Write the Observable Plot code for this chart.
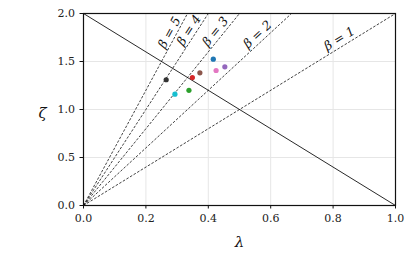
<!DOCTYPE html>
<html><head><meta charset="utf-8">
<script src="https://cdn.jsdelivr.net/npm/d3@7"></script>
<script src="https://cdn.jsdelivr.net/npm/@observablehq/plot@0.6"></script>
<style>
body{margin:0;background:#fff;}
svg, svg text{font-family:"DejaVu Serif", serif !important;}
</style>
</head><body><div id="chart"></div>
<script>
const betas = [1, 2, 3, 4, 5];
const betaLabelLambda = [0.83, 0.57, 0.436, 0.352, 0.29];
const ptLambda = [0.265, 0.293, 0.338, 0.349, 0.373, 0.416, 0.425, 0.453];
const ptZeta = [1.31, 1.16, 1.20, 1.333, 1.382, 1.524, 1.406, 1.445];
const ptColor = ["#333333", "#17becf", "#2ca02c", "#d62728", "#8c564b", "#1f77b4", "#e377c2", "#9467bd"];
const xTicks = [0, 0.2, 0.4, 0.6, 0.8, 1.0];
const yTicks = [0, 0.5, 1.0, 1.5, 2.0];

const W = 415, H = 257;
const mL = 83, mR = 20, mT = 13, mB = 52;
const pxW = W - mL - mR, pxH = H - mT - mB;

const rays = betas.map(b => ({b, x2: Math.min(1, 2 / (b + 1))}));
const labels = betas.map((b, i) => {
  const lx = betaLabelLambda[i], ly = (b + 1) * lx;
  const ang = Math.atan((b + 1) * (pxH / 2) / pxW) * 180 / Math.PI;
  return {x: lx, y: ly, r: -ang, t: "β = " + b};
});
const pts = ptLambda.map((x, i) => ({x, y: ptZeta[i], c: ptColor[i]}));

const chart = Plot.plot({
  width: W, height: H,
  marginLeft: mL, marginRight: mR, marginTop: mT, marginBottom: mB,
  style: {fontSize: "11px", fontFamily: "'DejaVu Serif', serif", color: "#222"},
  x: {domain: [0, 1]},
  y: {domain: [0, 2]},
  marks: [
    Plot.gridX(xTicks, {stroke: "#e6e6e6", strokeOpacity: 1, strokeWidth: 1}),
    Plot.gridY(yTicks, {stroke: "#e6e6e6", strokeOpacity: 1, strokeWidth: 1}),
    Plot.link(rays, {x1: 0, y1: 0, x2: "x2", y2: d => (d.b + 1) * d.x2, stroke: "#111", strokeWidth: 0.8, strokeDasharray: "2.6,1.6"}),
    Plot.line([{x: 0, y: 2}, {x: 1, y: 0}], {x: "x", y: "y", stroke: "#111", strokeWidth: 0.9}),
    Plot.text(labels, {x: "x", y: "y", text: "t", rotate: "r", lineAnchor: "bottom", fontSize: 12.5, fontStyle: "italic", fill: "#111", dy: -4, dx: -1}),
    Plot.dot(pts, {x: "x", y: "y", fill: "c", r: 2.6, stroke: "none"}),
    Plot.frame({stroke: "#111", strokeWidth: 1.2}),
    Plot.axisX(xTicks, {tickSize: 3.5, tickPadding: 5, tickFormat: d3.format(".1f"), label: null, fontSize: 11, stroke: "#111"}),
    Plot.axisY(yTicks, {tickSize: 3.5, tickPadding: 5, tickFormat: d3.format(".1f"), label: null, fontSize: 11, stroke: "#111"}),
    Plot.text(["λ"], {frameAnchor: "bottom", dy: 41, fontSize: 15, fontStyle: "italic", fill: "#111"}),
    Plot.text(["ζ"], {frameAnchor: "left", dx: -45, dy: 4, fontSize: 15, fontStyle: "italic", fill: "#111"})
  ]
});
document.getElementById("chart").appendChild(chart);
</script>
</body></html>
